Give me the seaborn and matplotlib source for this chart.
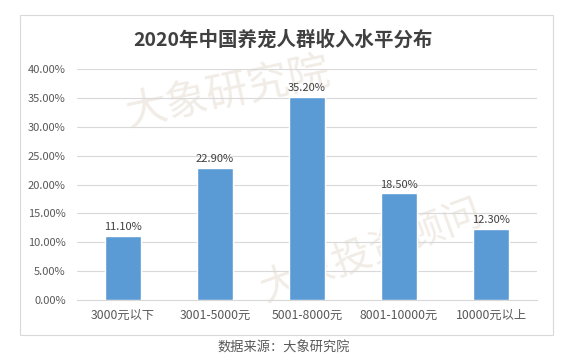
import matplotlib
matplotlib.use("Agg")
import matplotlib.pyplot as plt
import seaborn as sns
import pandas as pd
from matplotlib.patches import Rectangle
from matplotlib.ticker import PercentFormatter

# 数据
categories = ["3000元以下", "3001-5000元", "5001-8000元", "8001-10000元", "10000元以上"]
shares = [0.111, 0.229, 0.352, 0.185, 0.123]
y_ticks = [0.0, 0.05, 0.10, 0.15, 0.20, 0.25, 0.30, 0.35, 0.40]

title = "2020年中国养宠人群收入水平分布"
source = "数据来源：大象研究院"

sns.set_theme(style="white")
plt.rcParams["font.family"] = ["Noto Sans CJK SC", "DejaVu Sans"]

df = pd.DataFrame({"cat": categories, "share": shares})

fig = plt.figure(figsize=(5.7, 3.6), dpi=100)
ax = fig.add_axes([0.135, 0.1667, 0.807, 0.6416])

# 外框
fig.patches.append(Rectangle((20 / 570, 1 - 335 / 360), 533 / 570, 320 / 360,
                             transform=fig.transFigure, fill=False,
                             edgecolor="#D9D9D9", linewidth=0.8))

# 水印（放在坐标轴内最底层）
ax.text(0.40, 0.74, "大象研究院", fontsize=30, color="#F1ECE6", rotation=12,
        ha="center", va="center", zorder=0, transform=fig.transFigure,
        clip_on=False)
ax.text(0.65, 0.30, "大象投资顾问", fontsize=28, color="#F1ECE6", rotation=20,
        ha="center", va="center", zorder=0, transform=fig.transFigure,
        clip_on=False)

sns.barplot(data=df, x="cat", y="share", color="#5B9BD5", width=0.4,
            saturation=1, ax=ax, zorder=3)

ax.set_xlim(-0.5, 4.5)
ax.set_ylim(0, 0.40)
ax.set_yticks(y_ticks)
ax.yaxis.set_major_formatter(PercentFormatter(1.0, decimals=2))
ax.grid(axis="y", color="#D9D9D9", linewidth=0.8, zorder=1)
ax.set_axisbelow(False)
for s in ["top", "right", "left"]:
    ax.spines[s].set_visible(False)
ax.spines["bottom"].set_color("#D9D9D9")
ax.spines["bottom"].set_linewidth(0.8)
ax.patch.set_alpha(0)
ax.set_xlabel("")
ax.set_ylabel("")
ax.tick_params(axis="both", length=0, labelcolor="#595959")
ax.tick_params(axis="y", pad=8, labelsize=8)
ax.tick_params(axis="x", pad=6, labelsize=8.8)

for i, v in enumerate(shares):
    ax.text(i, v + 0.006, f"{v * 100:.2f}%", ha="center", va="bottom",
            fontsize=8, color="#404040", zorder=5)

fig.text(0.497, 1 - 40 / 360, title, ha="center", va="center",
         fontsize=14, fontweight="bold", color="#404040")
fig.text(0.497, 1 - 348 / 360, source, ha="center", va="center",
         fontsize=9.5, color="#595959")

fig.savefig("out.png", dpi=100)
